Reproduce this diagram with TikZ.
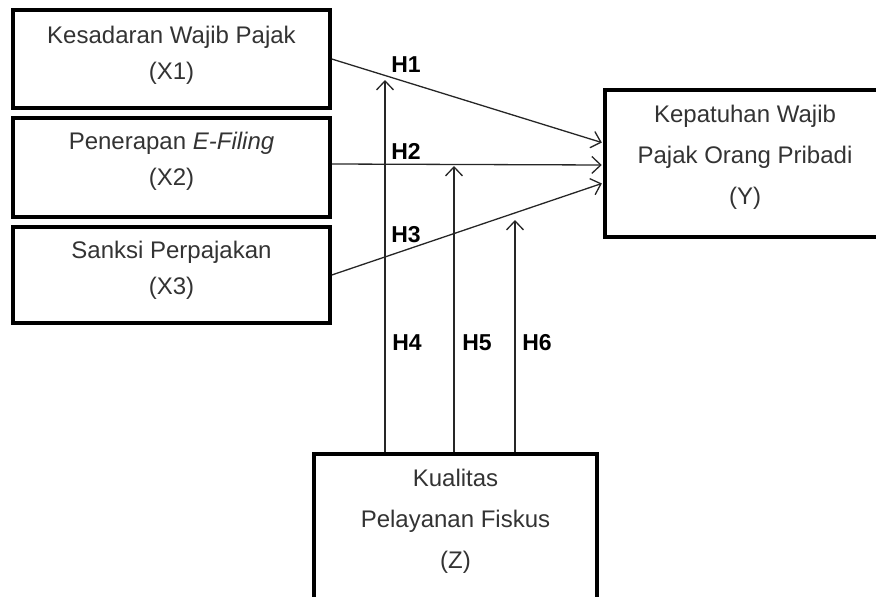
\documentclass[tikz,border=0pt]{standalone}
\usepackage{fontspec}
\setmainfont{Liberation Sans}
\usetikzlibrary{arrows.meta,calc}
\begin{document}
\begin{tikzpicture}[x=1pt,y=-1pt,
  box/.style={draw=black,line width=3.5pt,inner sep=0pt},
  txtx/.style={align=center,font=\fontsize{24}{36}\selectfont,inner sep=0pt,text=black!80},
  txty/.style={align=center,font=\fontsize{24}{41}\selectfont,inner sep=0pt,text=black!80},
  hlab/.style={font=\fontsize{23}{26}\selectfont\bfseries,inner sep=0pt},
  arr/.style={draw=black!85,line width=1.3pt,shorten >=1.5pt,
    -{Straight Barb[length=9pt,width=17pt,line width=1.3pt]}}
]
\useasboundingbox (0,0) rectangle (876,597);
% boxes
\node[box,minimum width=317pt,minimum height=98pt] (X1) at (171.5,59) {};
\node[box,minimum width=317pt,minimum height=99pt] (X2) at (171.5,167.5) {};
\node[box,minimum width=317pt,minimum height=96pt] (X3) at (171.5,275) {};
\node[box,minimum width=280pt,minimum height=147pt] (Y) at (745,163.5) {};
\node[box,minimum width=283pt,minimum height=166pt] (Z) at (455.5,537) {};
% texts
\node[txtx] (tX1) at ($(X1.center)+(0,-4)$) {Kesadaran Wajib Pajak\\(X1)};
\node[txtx] (tX2) at ($(X2.center)+(0,-6)$) {Penerapan \textit{E-Filing}\\(X2)};
\node[txtx] (tX3) at ($(X3.center)+(0,-5)$) {Sanksi Perpajakan\\(X3)};
\node[txty] (tY) at ($(Y.center)+(0,-6.5)$) {Kepatuhan Wajib\\Pajak Orang Pribadi\\(Y)};
\node[txty] (tZ) at (455.5,521) {Kualitas\\Pelayanan Fiskus\\(Z)};
% arrows to Y
\draw[arr] (X1.east) -- ($(Y.west)+(0,-20.5)$);
\draw[arr] ($(X2.east)+(0,-3.5)$) -- ($(Y.west)+(0,1.5)$);
\draw[arr] (X3.east) -- ($(Y.west)+(0,19.5)$);
% moderating arrows
\coordinate (t4) at (385,80);
\coordinate (t5) at (454,166);
\coordinate (t6) at (515,220);
\draw[arr,shorten >=0pt] (Z.north -| t4) -- (t4);
\draw[arr,shorten >=0pt] (Z.north -| t5) -- (t5);
\draw[arr,shorten >=0pt] (Z.north -| t6) -- (t6);
% labels
\node[hlab] (h1) at (406,65) {H1};
\node[hlab] (h2) at (406,151) {H2};
\node[hlab] (h3) at (406,235) {H3};
\node[hlab] (h4) at (407,343) {H4};
\node[hlab] (h5) at (477,343) {H5};
\node[hlab] (h6) at (537,343) {H6};
\end{tikzpicture}
\end{document}
